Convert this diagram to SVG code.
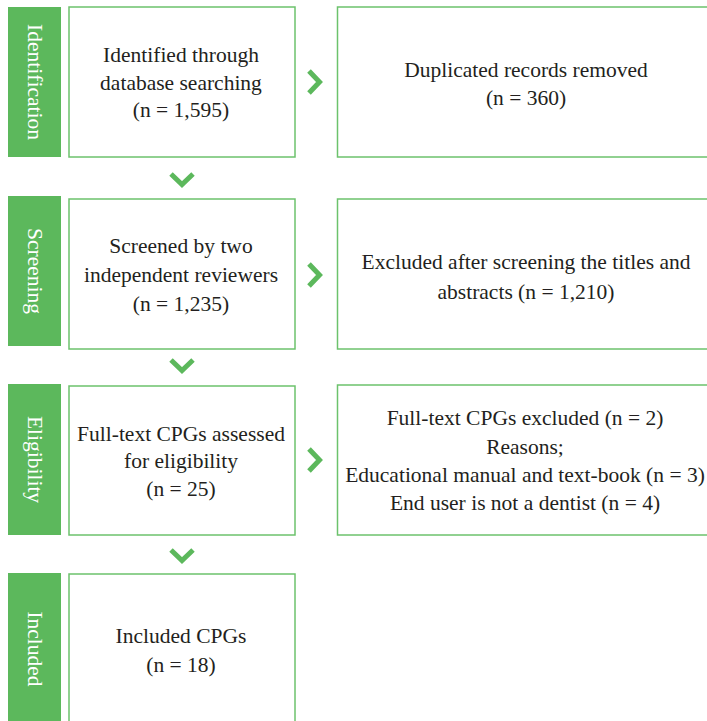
<svg xmlns="http://www.w3.org/2000/svg" width="707" height="721" viewBox="0 0 707 721">
<style>
.bar{fill:#5cb85c}
.box{fill:#fff;stroke:#6cc26c;stroke-width:1.5}
.t{font-family:"Liberation Serif","Times New Roman",serif;font-size:21.5px;fill:#231f20;text-anchor:middle}
.s{font-family:"Liberation Serif","Times New Roman",serif;font-size:21.5px;fill:#fff;text-anchor:middle;dominant-baseline:central}
.chev{fill:none;stroke:#5cb85c;stroke-width:5;stroke-linecap:butt;stroke-linejoin:miter}
</style>
<rect width="707" height="721" fill="#fff"/>
<g id="stage-identification"><rect class="bar" x="8" y="7" width="53" height="150"/><text class="s" transform="translate(34.5,82) rotate(90)">Identification</text></g>
<g id="stage-screening"><rect class="bar" x="8" y="196" width="53" height="150"/><text class="s" transform="translate(34.5,271) rotate(90)">Screening</text></g>
<g id="stage-eligibility"><rect class="bar" x="8" y="384" width="53" height="151"/><text class="s" transform="translate(34.5,459.5) rotate(90)">Eligibility</text></g>
<g id="stage-included"><rect class="bar" x="8" y="573" width="53" height="150"/><text class="s" transform="translate(34.5,649) rotate(90)">Included</text></g>

<g id="identified"><rect class="box" x="69" y="7" width="226" height="150"/><text class="t" x="181" y="62">Identified through</text><text class="t" x="181" y="90">database searching</text><text class="t" x="181" y="117">(n = 1,595)</text></g>
<g id="duplicates"><rect class="box" x="337.5" y="7" width="380" height="150"/><text class="t" x="526" y="77">Duplicated records removed</text><text class="t" x="526" y="105">(n = 360)</text></g>
<g id="screened"><rect class="box" x="69" y="199" width="226" height="150"/><text class="t" x="181" y="253">Screened by two</text><text class="t" x="181" y="282">independent reviewers</text><text class="t" x="181" y="311">(n = 1,235)</text></g>
<g id="excluded-screening"><rect class="box" x="337.5" y="199" width="380" height="150"/><text class="t" x="526" y="269">Excluded after screening the titles and</text><text class="t" x="526" y="299">abstracts (n = 1,210)</text></g>
<g id="assessed"><rect class="box" x="69" y="386" width="226" height="149"/><text class="t" x="181" y="441">Full-text CPGs assessed</text><text class="t" x="181" y="468">for eligibility</text><text class="t" x="181" y="496">(n = 25)</text></g>
<g id="excluded-fulltext"><rect class="box" x="337.5" y="385" width="380" height="150"/><text class="t" x="525" y="425">Full-text CPGs excluded (n = 2)</text><text class="t" x="525" y="454">Reasons;</text><text class="t" x="525" y="482">Educational manual and text-book (n = 3)</text><text class="t" x="525" y="510">End user is not a dentist (n = 4)</text></g>
<g id="included"><rect class="box" x="69" y="574" width="226" height="160"/><text class="t" x="181" y="643">Included CPGs</text><text class="t" x="181" y="672">(n = 18)</text></g>

<g id="connectors">
<polyline class="chev" points="171,174 182,184.5 193,174"/>
<polyline class="chev" points="171,360 182,370.5 193,360"/>
<polyline class="chev" points="171,550 182,560.5 193,550"/>
<polyline class="chev" points="309,71 319.5,82 309,93"/>
<polyline class="chev" points="309,264 319.5,275 309,286"/>
<polyline class="chev" points="309,449 319.5,460 309,471"/>
</g>
</svg>
